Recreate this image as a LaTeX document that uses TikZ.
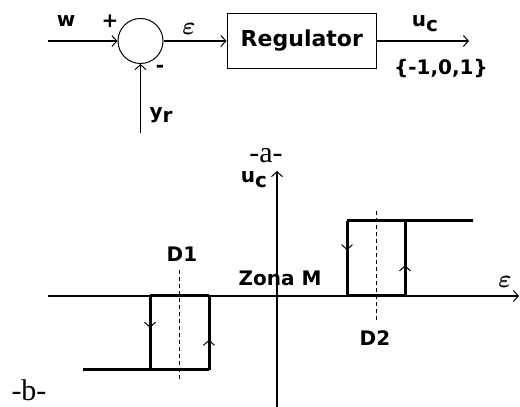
\documentclass[tikz,border=0pt]{standalone}
\usepackage{amsmath}
\usepackage{fontspec}
\setmainfont{Liberation Serif}
\setsansfont{DejaVu Sans}
\usetikzlibrary{positioning, arrows.meta, decorations.markings}

\begin{document}
\begin{tikzpicture}[x=1pt, y=1pt,
		% Define styles for the block diagram
		sumnode/.style={
			circle, draw, line width=1pt, minimum size=45pt, inner sep=0pt
		},
		regbox/.style={
			rectangle, draw, line width=1.6pt, minimum width=149pt, minimum height=55pt,
			font=\sffamily\bfseries\fontsize{22}{24}\selectfont
		},
		sig/.style={
			-{Straight Barb[length=5pt, width=11pt, line width=1pt]}, line width=1.3pt
		},
		lbl/.style={inner sep=0pt, font=\sffamily\bfseries\fontsize{20}{22}\selectfont},
		mlbl/.style={inner sep=0pt, font=\fontsize{27}{29}\selectfont},
		caption/.style={inner sep=0pt, font=\fontsize{30}{32}\selectfont},
		% Styles for the characteristic
		axis/.style={
			-{Straight Barb[length=5pt, width=11pt, line width=1pt]}, line width=1.3pt
		},
		hyst/.style={line width=3pt},
		guide/.style={line width=1pt, dash pattern=on 4pt off 3pt},
		markdir/.style={
			decoration={markings, mark=at position #1 with
				{\arrow{Straight Barb[length=5pt, width=11pt, line width=1pt]}}},
			postaction={decorate}
		}
		]
		
		\useasboundingbox (0,0) rectangle (520,407);
		
		% Block diagram -a-
		\node[sumnode] (sum) at (140.5,366) {};
		\node[regbox, right=63pt of sum] (reg) {Regulator};
		\coordinate[left=70pt of sum.west] (win);
		\coordinate[below=69pt of sum.south] (yrin);
		\coordinate[right=92pt of reg.east] (out);
		
		\draw[sig] (win) -- (sum);
		\draw[sig] (yrin) -- (sum);
		\draw[sig] (sum) -- (reg) node[midway, above=6pt, xshift=-6pt, mlbl] (eps) {$\boldsymbol{\varepsilon}$};
		\draw[sig] (reg) -- (out);
		
		\node[lbl] (wlab) at (66,386) {w};
		\node[lbl] (plus) at (110,386) {+};
		\node[lbl] (minus) at (160,338) {-};
		\node[lbl] (yrlab) at (161,292) {y\raisebox{-0.35ex}{r}};
		\node[lbl] (uclab) at (425,383) {u\raisebox{-0.45ex}{c}};
		\node[lbl] (setlab) at (441,338) {\{-1,0,1\}};
		\node[caption] (capa) at (266,251) {-a-};
		
		% Characteristic -b-
		\draw[axis] (48,111) -- (519,111);
		\draw[axis] (277,0) -- (277,236);
		\node[lbl] (ucaxis) at (254,227) {u\raisebox{-0.45ex}{c}};
		\node[mlbl] (epsaxis) at (505,125) {$\boldsymbol{\varepsilon}$};
		
		% negative relay loop
		\draw[guide] (179,137) -- (179,27);
		\draw[hyst] (83,37) -- (209,37);
		\draw[hyst] (150,111) -- (209,111);
		\draw[hyst, markdir=0.43] (150,111) -- (150,37);
		\draw[hyst, markdir=0.41] (209,37) -- (209,111);
		
		% positive relay loop
		\draw[guide] (376,196) -- (376,85);
		\draw[hyst] (347,186) -- (473,186);
		\draw[hyst] (347,111) -- (405,111);
		\draw[hyst, markdir=0.39] (347,186) -- (347,111);
		\draw[hyst, markdir=0.41] (405,111) -- (405,186);
		
		\node[lbl] (d1) at (182,153) {D1};
		\node[lbl] (d2) at (375,69) {D2};
		\node[lbl] (zona) at (280,129) {Zona M};
		\node[caption] (capb) at (29,17) {-b-};
		
	\end{tikzpicture}
\end{document}
